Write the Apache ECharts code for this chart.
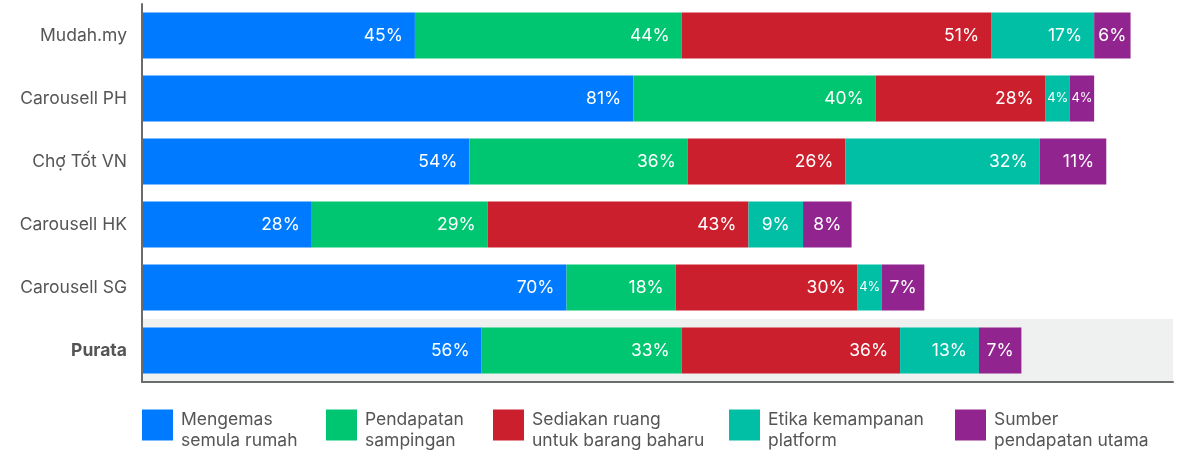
<!DOCTYPE html>
<html>
<head>
<meta charset="utf-8">
<script src="https://cdn.jsdelivr.net/npm/echarts@6/dist/echarts.min.js"></script>
<style>
  html, body { margin: 0; padding: 0; background: #fff; }
  #chart { width: 1180px; height: 452px; }
</style>
</head>
<body>
<div id="chart"></div>
<script>
const categories = ["Mudah.my", "Carousell PH", "Chợ Tốt VN", "Carousell HK", "Carousell SG", "Purata"];
const seriesNames = [
  "Mengemas\nsemula rumah",
  "Pendapatan\nsampingan",
  "Sediakan ruang\nuntuk barang baharu",
  "Etika kemampanan\nplatform",
  "Sumber\npendapatan utama",
];
const repack = [45, 81, 54, 28, 70, 56];
const sideIncome = [44, 40, 36, 29, 18, 33];
const makeSpace = [51, 28, 26, 43, 30, 36];
const platformEthics = [17, 4, 32, 9, 4, 13];
const mainIncome = [6, 4, 11, 8, 7, 7];
const highlightValue = [null, null, null, null, null, 170];

const colors = ["#007bff", "#00c571", "#cc1f2d", "#00bfa5", "#92248f"];
const font = "Inter, 'Noto Sans', sans-serif";

const chart = echarts.init(document.getElementById("chart"));

// small segments get centred labels, 4% ones a smaller font
const toData = (arr) =>
  arr.map((v) =>
    v < 10
      ? { value: v, label: { position: "inside", fontSize: v < 5 ? 13 : 17.5 } }
      : v
  );

const stacked = [repack, sideIncome, makeSpace, platformEthics, mainIncome].map((arr, i) => ({
  name: seriesNames[i],
  type: "bar",
  stack: "total",
  barWidth: 46,
  z: 2,
  itemStyle: { color: colors[i] },
  label: {
    show: true,
    position: "insideRight",
    distance: 12,
    color: "#fff",
    fontSize: 17.5,
    fontFamily: font,
    formatter: "{c}%",
  },
  data: toData(arr),
}));

const legendLefts = [142, 326, 493, 729, 955];

chart.setOption({
  animation: false,
  grid: { left: 142, right: 7, top: 4, bottom: 70 },
  xAxis: {
    type: "value",
    min: 0,
    max: 170,
    z: 5,
    axisLine: { show: true, lineStyle: { color: "#6b6b6b", width: 2 } },
    axisTick: { show: false },
    axisLabel: { show: false },
    splitLine: { show: false },
  },
  yAxis: [
    {
      type: "category",
      data: categories,
      inverse: true,
      z: 5,
      axisLine: { show: true, lineStyle: { color: "#6b6b6b", width: 2 } },
      axisTick: { show: false },
      axisLabel: {
        margin: 15,
        color: "#555",
        fontSize: 17.5,
        fontFamily: font,
        formatter: (v) => (v === "Purata" ? "{b|" + v + "}" : v),
        rich: { b: { fontWeight: "bold", fontSize: 17.5, color: "#555", fontFamily: font } },
      },
    },
    {
      type: "category",
      data: categories,
      inverse: true,
      show: false,
    },
  ],
  legend: seriesNames.map((n, i) => ({
    data: [n],
    left: legendLefts[i],
    top: 403,
    padding: 0,
    itemWidth: 31,
    itemHeight: 31,
    icon: "rect",
    selectedMode: false,
    // blank spacer line pushes the two text lines down a bit
    formatter: (name) => "{e| }\n" + name.split("\n").map((s) => "{t|" + s + "}").join("\n"),
    textStyle: {
      color: "#555",
      fontSize: 17.5,
      fontFamily: font,
      rich: {
        e: { fontSize: 2, lineHeight: 10 },
        t: { color: "#555", fontSize: 17.5, lineHeight: 21, fontFamily: font, padding: [0, 0, 0, 3] },
      },
    },
  })),
  series: [
    {
      name: "bg",
      type: "bar",
      yAxisIndex: 1,
      barWidth: "100%",
      silent: true,
      z: 1,
      itemStyle: { color: "#eff1f0" },
      data: highlightValue,
    },
    ...stacked,
  ],
});
</script>
</body>
</html>
